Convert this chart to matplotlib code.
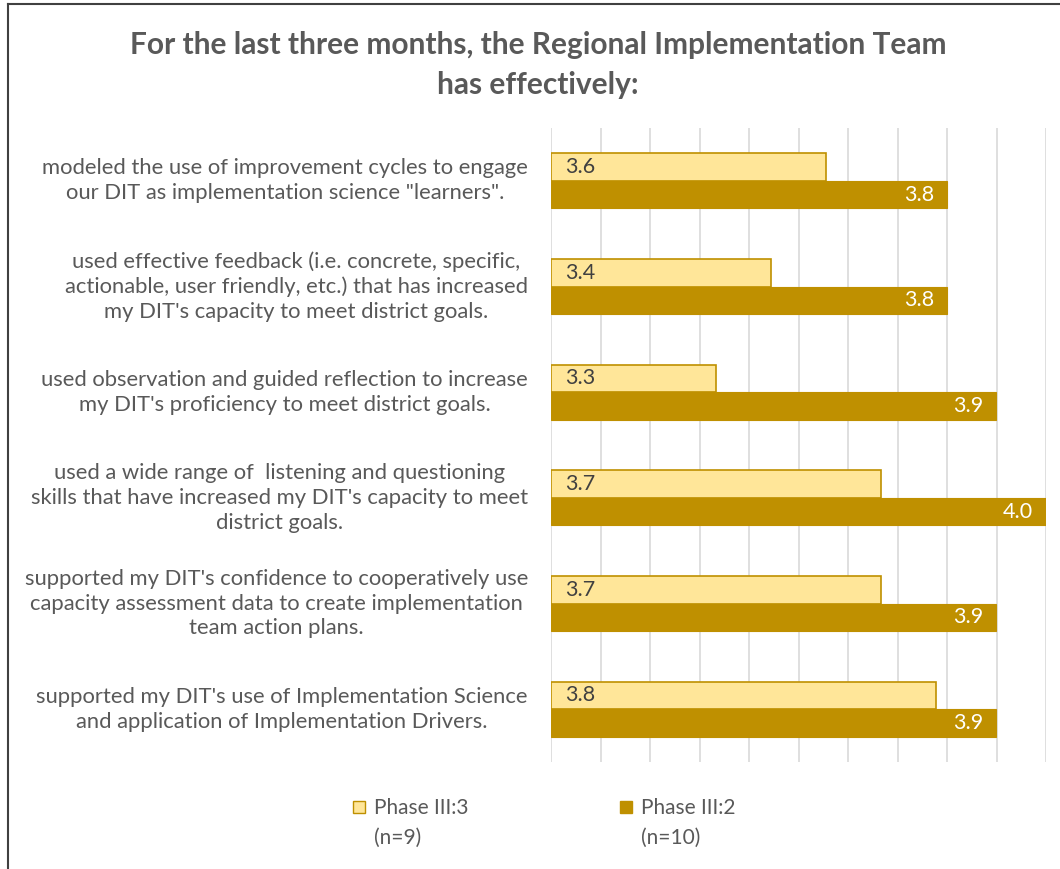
import matplotlib
matplotlib.use("Agg")
import matplotlib.pyplot as plt
from matplotlib.patches import Rectangle
from matplotlib.lines import Line2D
import numpy as np

plt.rcParams['font.family'] = ['Lato', 'DejaVu Sans']

title = "For the last three months, the Regional Implementation Team\nhas effectively:"
categories = [
    "modeled the use of improvement cycles to engage\nour DIT as implementation science \"learners\".",
    "used effective feedback (i.e. concrete, specific,\nactionable, user friendly, etc.) that has increased\nmy DIT's capacity to meet district goals.",
    "used observation and guided reflection to increase\nmy DIT's proficiency to meet district goals.",
    "used a wide range of  listening and questioning\nskills that have increased my DIT's capacity to meet\ndistrict goals.",
    "supported my DIT's confidence to cooperatively use\ncapacity assessment data to create implementation\nteam action plans.",
    "supported my DIT's use of Implementation Science\nand application of Implementation Drivers.",
]
phase3 = [3.556, 3.444, 3.333, 3.667, 3.667, 3.778]
phase2 = [3.8, 3.8, 3.9, 4.0, 3.9, 3.9]
series_names = ["Phase III:3\n(n=9)", "Phase III:2\n(n=10)"]

light = "#FFE699"
dark = "#BF9000"
text_gray = "#595959"

W, H = 1060, 869
fig = plt.figure(figsize=(W / 100, H / 100), dpi=100)
ax = fig.add_axes([551 / W, 1 - 762 / H, (1046 - 551) / W, (762 - 128) / H])

y = np.arange(len(categories))
bh = 0.26
xmin = 3.0
b1 = ax.barh(y - bh / 2, np.array(phase3) - xmin, left=xmin, height=bh,
             color=light, edgecolor=dark, linewidth=1.2, zorder=3)
b2 = ax.barh(y + bh / 2, np.array(phase2) - xmin, left=xmin, height=bh,
             color=dark, edgecolor=dark, linewidth=0.8, zorder=3)

for yi, v in zip(y, phase3):
    ax.text(xmin + 0.028, yi - bh / 2, f"{v:.1f}", ha='left', va='center',
            fontsize=15.5, color="#404040", zorder=4)
for yi, v in zip(y, phase2):
    ax.text(v - 0.026, yi + bh / 2, f"{v:.1f}", ha='right', va='center',
            fontsize=15.5, color="white", zorder=4)

ax.set_xlim(3.0, 4.0)
ax.set_ylim(len(categories) - 0.5, -0.5)
ax.set_xticks(np.arange(3.0, 4.01, 0.1))
ax.xaxis.grid(True, color="#D9D9D9", linewidth=1.2, zorder=0)
ax.tick_params(axis='both', length=0, labelbottom=False, labelleft=False)
for s in ax.spines.values():
    s.set_visible(False)
ax.set_yticks([])

# category labels
for yi, lab in zip(y, categories):
    yp = ax.transData.transform((3.0, yi))[1]
    fy = yp / (H)
    fig.text(528 / W, fy, lab, ha='right', va='center', multialignment='center',
             fontsize=15.8, color=text_gray, linespacing=1.3)

fig.text(538 / W, 1 - 65 / H, title, ha='center', va='center', fontsize=21.5,
         fontweight='bold', color=text_gray, linespacing=1.5)

# legend
leg_items = [(353, light, series_names[0]), (620, dark, series_names[1])]
for x0, col, name in leg_items:
    fig.patches.append(Rectangle((x0 / W, 1 - 813 / H), 12 / W, 12 / H,
                                 transform=fig.transFigure, facecolor=col,
                                 edgecolor=dark, linewidth=1))
    fig.text((x0 + 21) / W, 1 - 798 / H, name, ha='left', va='top',
             fontsize=15, color=text_gray, linespacing=1.6,
             transform=fig.transFigure)

# frame lines (top and left)
fig.lines.append(Line2D([8 / W, 1], [1 - 4 / H, 1 - 4 / H], transform=fig.transFigure,
                        color="#404040", linewidth=1.5))
fig.lines.append(Line2D([8 / W, 8 / W], [0, 1 - 4 / H], transform=fig.transFigure,
                        color="#404040", linewidth=1.5))

fig.savefig("out.png", dpi=100, facecolor="white")
